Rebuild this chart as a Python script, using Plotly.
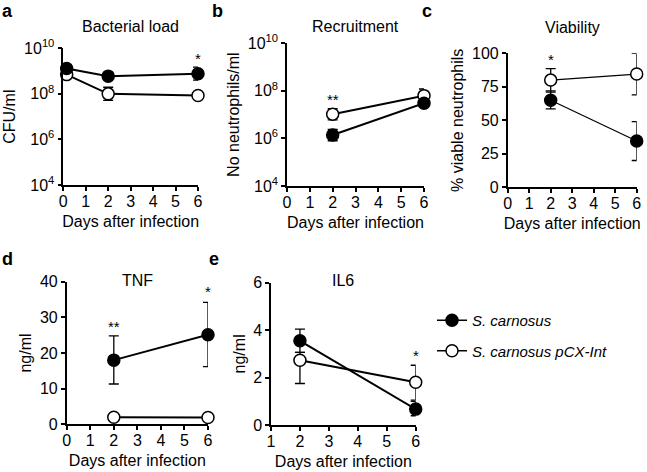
import math
import plotly.graph_objects as go

W, H = 647, 472

# ---------------- data ----------------
days_a = [0.15, 2, 6]
a_filled = [1.3e9, 6e8, 7.7e8]
a_filled_hi = [1.6e9, 7e8, 1.5e9]
a_filled_lo = [1.0e9, 5e8, 4e8]
a_open = [7e8, 1e8, 8.5e7]
a_open_hi = [8e8, 1.95e8, 9.5e7]
a_open_lo = [6e8, 5.2e7, 7.5e7]

days_b = [2, 6]
b_filled = [1.4e6, 3e7]
b_filled_hi = [2.4e6, 4e7]
b_filled_lo = [8e5, 2.3e7]
b_open = [1.05e7, 6.3e7]
b_open_hi = [1.8e7, 1.2e8]
b_open_lo = [6e6, 4.5e7]

days_c = [2, 6]
c_filled = [65, 34.5]
c_filled_hi = [72, 49]
c_filled_lo = [58.5, 20]
c_open = [80, 84.5]
c_open_hi = [88.5, 100]
c_open_lo = [71, 69]

days_d = [2, 6]
d_filled = [18.0, 25.1]
d_filled_hi = [24.8, 34.2]
d_filled_lo = [11.3, 16.2]
d_open = [2.0, 1.9]
d_open_hi = [2.3, 2.2]
d_open_lo = [1.7, 1.6]

days_e = [2, 6]
e_filled = [3.55, 0.67]
e_filled_hi = [4.04, 1.0]
e_filled_lo = [3.06, 0.39]
e_open = [2.73, 1.8]
e_open_hi = [3.06, 2.52]
e_open_lo = [1.75, 1.05]

series_names = ["<i>S. carnosus</i>", "<i>S. carnosus pCX-Int</i>"]
panel_titles = ["Bacterial load", "Recruitment", "Viability", "TNF", "IL6"]
panel_letters = ["a", "b", "c", "d", "e"]
y_titles = ["CFU/ml", "No neutrophils/ml", "% viable neutrophils", "ng/ml", "ng/ml"]
x_title = "Days after infection"
log_tickvals = [1e4, 1e6, 1e8, 1e10]
log_ticktext = ["10<sup>4</sup>", "10<sup>6</sup>", "10<sup>8</sup>", "10<sup>10</sup>"]

# significance marks: (panel, x, y, text)
stars = [
    (0, 6, 3.5e9, "*"),
    (1, 2, 4.2e7, "**"),
    (2, 2, 95, "*"),
    (2, 6, 107, "**"),
    (3, 2, 27.5, "**"),
    (3, 6, 37.2, "*"),
    (4, 6, 2.95, "*"),
]

FONT = "Liberation Sans, Arial, Helvetica, sans-serif"

# panel geometry in pixels: (left, right, top, bottom)
geom = [
    (63.3, 198, 48.3, 185),
    (287, 424, 43.3, 186),
    (507.7, 636.7, 53.3, 187.3),
    (66.7, 208, 281.7, 424.3),
    (271, 415.7, 282.7, 425),
]

fig = go.Figure()


def px2x(p):
    return p / W


def px2y(p):
    return 1 - p / H


def add_series(i, x, y, hi, lo, filled, lw):
    xa = "x" if i == 0 else f"x{i+1}"
    ya = "y" if i == 0 else f"y{i+1}"
    plus = [h - v for h, v in zip(hi, y)]
    minus = [v - l for v, l in zip(y, lo)]
    fig.add_trace(go.Scatter(
        x=x, y=y, xaxis=xa, yaxis=ya,
        mode="lines+markers",
        name=series_names[0] if filled else series_names[1],
        showlegend=False,
        line=dict(color="black", width=lw),
        marker=dict(size=12, color="black" if filled else "white",
                    line=dict(color="black", width=1.5)),
        error_y=dict(type="data", symmetric=False, array=plus, arrayminus=minus,
                     color="black", thickness=1.3, width=5),
        cliponaxis=False,
    ))


lw_list = [2, 2, 1.2, 2, 2]
data = [
    (days_a, a_filled, a_filled_hi, a_filled_lo, a_open, a_open_hi, a_open_lo),
    (days_b, b_filled, b_filled_hi, b_filled_lo, b_open, b_open_hi, b_open_lo),
    (days_c, c_filled, c_filled_hi, c_filled_lo, c_open, c_open_hi, c_open_lo),
    (days_d, d_filled, d_filled_hi, d_filled_lo, d_open, d_open_hi, d_open_lo),
    (days_e, e_filled, e_filled_hi, e_filled_lo, e_open, e_open_hi, e_open_lo),
]

for i, (dx, f, fh, fl, o, oh, ol) in enumerate(data):
    add_series(i, dx, o, oh, ol, False, lw_list[i])
    add_series(i, dx, f, fh, fl, True, lw_list[i])

# legend entries
fig.add_trace(go.Scatter(x=[None], y=[None], mode="lines+markers", name=series_names[0],
                         legendgroup="g1",
                         line=dict(color="black", width=1.5),
                         marker=dict(size=12, color="black", line=dict(color="black", width=1.5))))
fig.add_trace(go.Scatter(x=[None], y=[None], mode="lines+markers", name=series_names[1],
                         legendgroup="g2",
                         line=dict(color="black", width=1.5),
                         marker=dict(size=12, color="white", line=dict(color="black", width=1.5))))

TICKFONT = dict(family=FONT, size=16, color="black")
axis_common = dict(showline=True, linecolor="black", linewidth=1.5, ticks="outside",
                   ticklen=4, tickwidth=1.5, tickcolor="black", showgrid=False, zeroline=False,
                   tickfont=TICKFONT, automargin=False)

layout = dict(width=W, height=H, margin=dict(l=0, r=0, t=0, b=0, autoexpand=False),
              template="none",
              paper_bgcolor="white", plot_bgcolor="white",
              font=dict(family=FONT, color="black"),
              showlegend=True,
              legend=dict(x=px2x(432), y=px2y(304), xanchor="left", yanchor="top",
                          font=dict(family=FONT, size=15, color="black"),
                          itemwidth=30, tracegroupgap=8, bgcolor="rgba(0,0,0,0)",
                          borderwidth=0))

xranges = [[0, 6], [0, 6], [0, 6], [0, 6], [1, 6]]
yranges = [[4, 10], [4, 10], [0, 100], [0, 40], [0, 6]]
ytickvals = [log_tickvals, log_tickvals, [0, 25, 50, 75, 100], [0, 10, 20, 30, 40], [0, 2, 4, 6]]

annotations = []
title_y = [27, 27, 28, 280, 280]
for i, (l, r, t, b) in enumerate(geom):
    xk = "xaxis" if i == 0 else f"xaxis{i+1}"
    yk = "yaxis" if i == 0 else f"yaxis{i+1}"
    xa = "x" if i == 0 else f"x{i+1}"
    ya = "y" if i == 0 else f"y{i+1}"
    xaxis = dict(axis_common, domain=[px2x(l), px2x(r)], range=xranges[i],
                 anchor=ya, dtick=1, tickmode="linear", ticklabelstandoff=-3,
                 title=dict(text=x_title, font=dict(family=FONT, size=16, color="black"), standoff=7))
    yaxis = dict(axis_common, domain=[px2y(b), px2y(t)], anchor=xa,
                 title=dict(text=y_titles[i], font=dict(family=FONT, size=16, color="black"), standoff=4))
    if i < 2:
        yaxis.update(type="log", range=yranges[i], tickvals=ytickvals[i], ticktext=log_ticktext)
    else:
        yaxis.update(range=yranges[i], tickvals=ytickvals[i])
    layout[xk] = xaxis
    layout[yk] = yaxis
    annotations.append(dict(text=panel_titles[i], x=(l + r) / 2 / W, xref="paper",
                            y=px2y(title_y[i]), yref="paper",
                            yanchor="middle", xanchor="center", showarrow=False,
                            font=dict(family=FONT, size=16, color="black")))

letter_pos = [(0, 11), (210, 11), (420, 11), (0, 259), (207, 259)]
for (lx, ly), letter in zip(letter_pos, panel_letters):
    annotations.append(dict(text=f"<b>{letter}</b>", x=px2x(lx), y=px2y(ly), xref="paper", yref="paper",
                            xanchor="left", yanchor="middle", showarrow=False,
                            font=dict(family=FONT, size=18, color="black")))

for (pi, sx, sy, txt) in stars:
    xa = "x" if pi == 0 else f"x{pi+1}"
    ya = "y" if pi == 0 else f"y{pi+1}"
    yy = math.log10(sy) if pi < 2 else sy
    annotations.append(dict(text=txt, x=sx, y=yy, xref=xa, yref=ya, showarrow=False,
                            xanchor="center", yanchor="middle",
                            font=dict(family=FONT, size=15, color="black")))

layout["annotations"] = annotations
fig.update_layout(**layout)
fig.write_html("out.html", config={"displayModeBar": False},
               post_script="document.body.style.margin='0px';document.body.style.padding='0px';")
